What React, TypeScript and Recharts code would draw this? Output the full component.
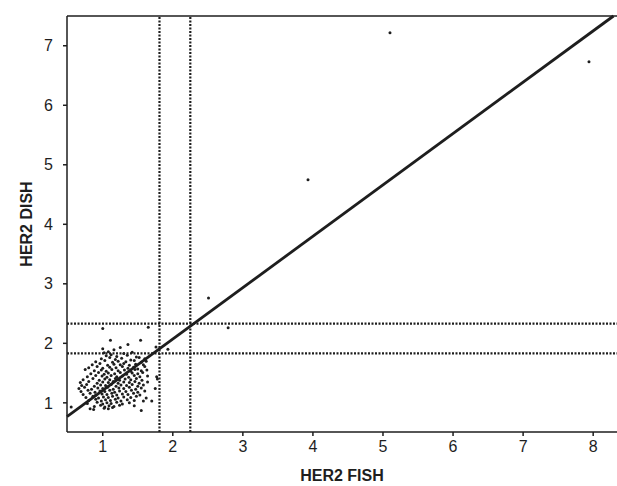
import { ScatterChart, Scatter, XAxis, YAxis, ReferenceLine } from "recharts";

// HER2 FISH ratio vs HER2 DISH ratio, one pair per case
const cases: [number, number][] = [
  [1.0, 1.91], [1.16, 1.89], [1.25, 1.93],
  [1.02, 1.84], [1.08, 1.86], [1.3, 1.83], [1.42, 1.85],
  [1.05, 1.79], [1.12, 1.81], [1.2, 1.78], [1.35, 1.8], [1.48, 1.77],
  [0.98, 1.74], [1.1, 1.76], [1.18, 1.73], [1.27, 1.75], [1.4, 1.72], [1.52, 1.76], [1.6, 1.74],
  [0.9, 1.69], [1.03, 1.71], [1.14, 1.68], [1.22, 1.7], [1.33, 1.69], [1.45, 1.71], [1.55, 1.68], [1.62, 1.7],
  [0.85, 1.64], [0.96, 1.66], [1.07, 1.63], [1.16, 1.65], [1.25, 1.64], [1.3, 1.66], [1.38, 1.63], [1.47, 1.65], [1.58, 1.64],
  [0.8, 1.59], [0.92, 1.61], [1.0, 1.58], [1.1, 1.6], [1.19, 1.59], [1.28, 1.61], [1.36, 1.58], [1.44, 1.6], [1.5, 1.57], [1.6, 1.61],
  [0.75, 1.56], [0.88, 1.54], [0.98, 1.55], [1.05, 1.53], [1.13, 1.56], [1.22, 1.54], [1.31, 1.55], [1.4, 1.53], [1.46, 1.56], [1.55, 1.54], [1.63, 1.55],
  [0.83, 1.49], [0.94, 1.51], [1.02, 1.48], [1.08, 1.5], [1.17, 1.49], [1.25, 1.51], [1.34, 1.48], [1.42, 1.5], [1.5, 1.49], [1.57, 1.51],
  [0.78, 1.44], [0.9, 1.46], [0.99, 1.45], [1.06, 1.43], [1.12, 1.46], [1.2, 1.44], [1.28, 1.45], [1.37, 1.43], [1.45, 1.46], [1.53, 1.44], [1.64, 1.45], [1.77, 1.44],
  [0.72, 1.39], [0.86, 1.41], [0.95, 1.38], [1.03, 1.4], [1.1, 1.39], [1.18, 1.41], [1.24, 1.38], [1.32, 1.4], [1.4, 1.39], [1.48, 1.41], [1.56, 1.38], [1.78, 1.4],
  [0.68, 1.34], [0.8, 1.36], [0.92, 1.33], [1.0, 1.35], [1.08, 1.34], [1.15, 1.36], [1.22, 1.33], [1.3, 1.35], [1.38, 1.34], [1.46, 1.36], [1.52, 1.33], [1.64, 1.35],
  [0.7, 1.29], [0.77, 1.31], [0.88, 1.28], [0.97, 1.3], [1.04, 1.29], [1.12, 1.31], [1.19, 1.28], [1.26, 1.3], [1.34, 1.29], [1.42, 1.31], [1.5, 1.28], [1.58, 1.3],
  [0.66, 1.24], [0.74, 1.26], [0.84, 1.23], [0.93, 1.25], [1.0, 1.24], [1.07, 1.26], [1.15, 1.23], [1.23, 1.25], [1.3, 1.24], [1.38, 1.26], [1.47, 1.23], [1.55, 1.25], [1.75, 1.24],
  [0.69, 1.19], [0.79, 1.21], [0.89, 1.18], [0.96, 1.2], [1.03, 1.19], [1.1, 1.21], [1.17, 1.18], [1.24, 1.2], [1.33, 1.19], [1.41, 1.21], [1.5, 1.18], [1.6, 1.2],
  [0.72, 1.14], [0.82, 1.16], [0.9, 1.13], [0.99, 1.15], [1.06, 1.14], [1.13, 1.16], [1.2, 1.13], [1.28, 1.15], [1.36, 1.14], [1.44, 1.16], [1.53, 1.13],
  [0.76, 1.09], [0.86, 1.11], [0.94, 1.08], [1.01, 1.1], [1.08, 1.09], [1.14, 1.11], [1.22, 1.08], [1.3, 1.1], [1.4, 1.09], [1.48, 1.11], [1.62, 1.08],
  [0.8, 1.04], [0.9, 1.06], [0.98, 1.03], [1.04, 1.05], [1.11, 1.04], [1.18, 1.06], [1.26, 1.03], [1.35, 1.05], [1.45, 1.04],
  [0.78, 0.99], [0.92, 1.01], [1.0, 0.98], [1.06, 1.0], [1.12, 0.99], [1.2, 1.01], [1.28, 0.98], [1.38, 1.0], [1.58, 1.03], [1.7, 1.03],
  [0.88, 0.94], [0.97, 0.96], [1.03, 0.93], [1.09, 0.95], [1.16, 0.94], [1.24, 0.96], [1.45, 0.95],
  [0.82, 0.9], [0.87, 0.89], [1.02, 0.91], [1.08, 0.9], [1.14, 0.92],
  [1.55, 0.87], [0.55, 0.93],
  [1.0, 2.25], [1.65, 2.27], [1.11, 2.05], [1.36, 1.98], [1.54, 2.05], [1.93, 1.9], [1.76, 1.94],
  [2.51, 2.76], [2.79, 2.26], [3.93, 4.75], [5.1, 7.22], [7.94, 6.73],
];

const xTicks = [1, 2, 3, 4, 5, 6, 7, 8];
const yTicks = [1, 2, 3, 4, 5, 6, 7];
const xDomain: [number, number] = [0.49, 8.34];
const yDomain: [number, number] = [0.51, 7.5];

// cut-offs (dotted) and fitted line end points
const fishCutoffs = [1.81, 2.25];
const dishCutoffs = [1.83, 2.33];
const fitX = [0.49, 8.29];
const fitY = [0.77, 7.5];

const points = cases.map(([x, y]) => ({ x, y }));

const font = "'Liberation Sans', Arial, sans-serif";
const ink = "#1e1e1e";

const Dot = (props: any) => <circle cx={props.cx} cy={props.cy} r={1.5} fill={ink} />;

export default function App() {
  return (
    <div style={{ position: "absolute", left: 0, top: 0, background: "#fff" }}>
      <ScatterChart
        width={617}
        height={486}
        margin={{ top: 16, right: 0, bottom: 0, left: 0 }}
        style={{ fontFamily: font }}
      >
        <XAxis
          type="number"
          dataKey="x"
          domain={xDomain}
          ticks={xTicks}
          allowDataOverflow
          height={54}
          stroke={ink}
          strokeWidth={1.5}
          tickSize={4}
          tickMargin={5}
          tick={{ fontSize: 16, fill: ink }}
          label={{
            content: () => (
              <text x={342} y={481} textAnchor="middle" fontSize={16} fontWeight="bold" fill={ink} fontFamily={font}>
                HER2 FISH
              </text>
            ),
          }}
        />
        <YAxis
          type="number"
          dataKey="y"
          domain={yDomain}
          ticks={yTicks}
          allowDataOverflow
          width={67}
          stroke={ink}
          strokeWidth={1.5}
          tickSize={4}
          tickMargin={10}
          tick={{ fontSize: 16, fill: ink }}
          label={{
            content: () => (
              <text
                x={26}
                y={224}
                transform="rotate(-90 26 224)"
                textAnchor="middle"
                dominantBaseline="central"
                fontSize={16}
                fontWeight="bold"
                fill={ink}
                fontFamily={font}
              >
                HER2 DISH
              </text>
            ),
          }}
        />
        <ReferenceLine y={yDomain[1]} stroke={ink} strokeWidth={1.5} />
        {fishCutoffs.map((v) => (
          <ReferenceLine key={"fx" + v} x={v} stroke={ink} strokeWidth={2.2} strokeDasharray="2 1.5" />
        ))}
        {dishCutoffs.map((v) => (
          <ReferenceLine key={"dy" + v} y={v} stroke={ink} strokeWidth={2.2} strokeDasharray="2 1.5" />
        ))}
        <ReferenceLine
          segment={[
            { x: fitX[0], y: fitY[0] },
            { x: fitX[1], y: fitY[1] },
          ]}
          stroke={ink}
          strokeWidth={2.8}
        />
        <Scatter data={points} shape={Dot} isAnimationActive={false} />
      </ScatterChart>
    </div>
  );
}
